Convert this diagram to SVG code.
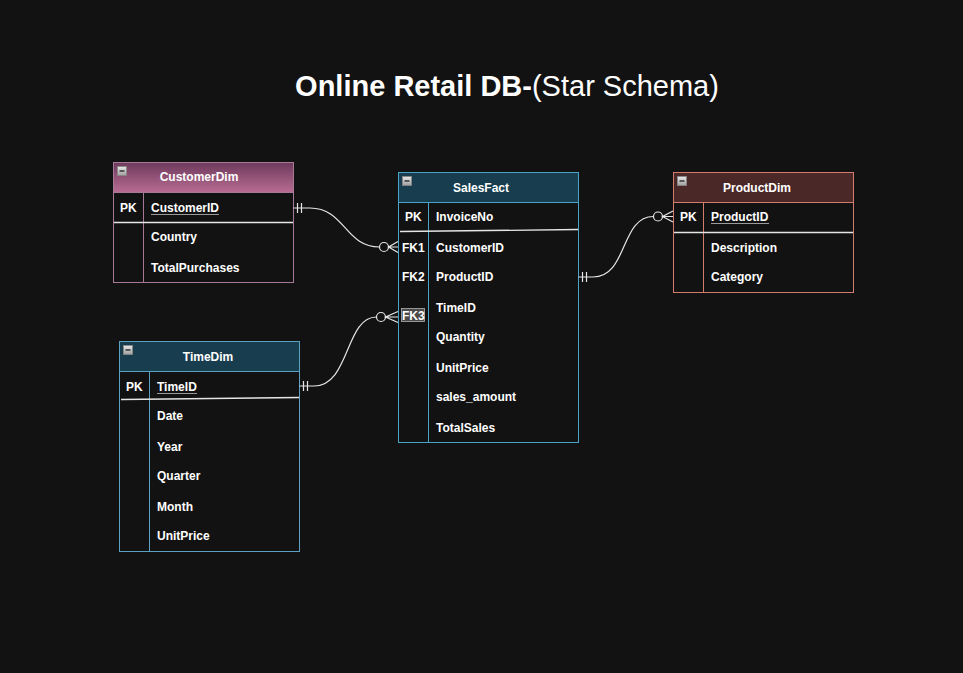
<svg xmlns="http://www.w3.org/2000/svg" width="963" height="673" viewBox="0 0 963 673">
<style>
.t{font-family:"Liberation Sans",Arial,sans-serif;font-weight:bold;font-size:12px;fill:#ffffff}
.hd{font-family:"Liberation Sans",Arial,sans-serif;font-weight:bold;font-size:12px;fill:#ffffff;text-anchor:middle}
.body{fill:#121212}
.sep{stroke:#e6e6e6;stroke-width:1.3}
.ul{stroke:#9a9a9a;stroke-width:1}
.conn{fill:none;stroke:#e6e6e6;stroke-width:1.2}
.circ{fill:#121212;stroke:#e6e6e6;stroke-width:1.2}
</style>
<defs>
<linearGradient id="pinkG" x1="0" y1="0" x2="0" y2="1">
<stop offset="0" stop-color="#6e3a5c"/>
<stop offset="1" stop-color="#b86c93"/>
</linearGradient>
<linearGradient id="iconG" x1="0" y1="0" x2="0" y2="1">
<stop offset="0" stop-color="#e8e8e8"/>
<stop offset="1" stop-color="#a0a0a0"/>
</linearGradient>
<g id="icon">
<rect x="0.5" y="0.5" width="9" height="9" fill="url(#iconG)" stroke="#888" stroke-width="0.8"/>
<line x1="2.5" y1="5" x2="7.5" y2="5" stroke="#333" stroke-width="1.5"/>
</g>
</defs>
<rect width="963" height="673" fill="#121212"/>
<text x="507" y="96" font-family="Liberation Sans,Arial,sans-serif" font-size="29" fill="#ffffff" text-anchor="middle"><tspan font-weight="bold">Online Retail DB-</tspan><tspan>(Star Schema)</tspan></text>

<g id="CustomerDim">
<rect x="113.5" y="162.5" width="180" height="120" class="body" stroke="#a87898"/>
<rect x="113.5" y="162.5" width="180" height="30" fill="url(#pinkG)" stroke="#a87898"/>
<use href="#icon" x="117" y="166"/>
<text x="199" y="180.5" class="hd">CustomerDim</text>
<line x1="143.5" y1="192.5" x2="143.5" y2="282.5" stroke="#a87898"/>
<line x1="114" y1="222.5" x2="293" y2="222.5" class="sep"/>
<text x="120" y="211.5" class="t">PK</text>
<text x="151" y="211.5" class="t">CustomerID</text>
<line x1="151" y1="214.5" x2="219" y2="214.5" class="ul"/>
<text x="151" y="241" class="t">Country</text>
<text x="151" y="271.5" class="t">TotalPurchases</text>
</g>

<g id="SalesFact">
<rect x="398.5" y="172.5" width="180" height="270" class="body" stroke="#4aa3c8"/>
<rect x="398.5" y="172.5" width="180" height="30" fill="#173d4f" stroke="#4aa3c8"/>
<use href="#icon" x="402" y="176"/>
<text x="481" y="191.5" class="hd">SalesFact</text>
<line x1="428.5" y1="202.5" x2="428.5" y2="442.5" stroke="#4aa3c8"/>
<line x1="400" y1="231.5" x2="578" y2="229.5" class="sep"/>
<text x="405" y="220.5" class="t">PK</text>
<text x="436" y="220.5" class="t">InvoiceNo</text>
<text x="402" y="251.5" class="t">FK1</text>
<text x="436" y="251.5" class="t">CustomerID</text>
<text x="402" y="280.5" class="t">FK2</text>
<text x="436" y="280.5" class="t">ProductID</text>
<rect x="401.5" y="308.5" width="23" height="13" fill="#4a4a4a" stroke="#b0b0b0" stroke-width="0.8"/>
<text x="402" y="319.5" class="t">FK3</text>
<text x="436" y="311.5" class="t">TimeID</text>
<text x="436" y="340.5" class="t">Quantity</text>
<text x="436" y="371.5" class="t">UnitPrice</text>
<text x="436" y="400.5" class="t">sales_amount</text>
<text x="436" y="431.5" class="t">TotalSales</text>
</g>

<g id="ProductDim">
<rect x="673.5" y="172.5" width="180" height="120" class="body" stroke="#d47c6c"/>
<rect x="673.5" y="172.5" width="180" height="30" fill="#4a2828" stroke="#d47c6c"/>
<use href="#icon" x="677" y="176"/>
<text x="757" y="191.5" class="hd">ProductDim</text>
<line x1="703.5" y1="202.5" x2="703.5" y2="292.5" stroke="#d47c6c"/>
<line x1="674" y1="232.5" x2="853" y2="232.5" class="sep"/>
<text x="680" y="220.5" class="t">PK</text>
<text x="711" y="220.5" class="t">ProductID</text>
<line x1="711" y1="223.5" x2="769" y2="223.5" class="ul"/>
<text x="711" y="251.5" class="t">Description</text>
<text x="711" y="280.5" class="t">Category</text>
</g>

<g id="TimeDim">
<rect x="119.5" y="341.5" width="180" height="210" class="body" stroke="#5aa0c0"/>
<rect x="119.5" y="341.5" width="180" height="30" fill="#173d4f" stroke="#5aa0c0"/>
<use href="#icon" x="123" y="345"/>
<text x="208" y="360.5" class="hd">TimeDim</text>
<line x1="149.5" y1="371.5" x2="149.5" y2="551.5" stroke="#5aa0c0"/>
<line x1="121" y1="399.5" x2="299" y2="397.5" class="sep"/>
<text x="126" y="390.5" class="t">PK</text>
<text x="157" y="390.5" class="t">TimeID</text>
<line x1="157" y1="393.5" x2="197" y2="393.5" class="ul"/>
<text x="157" y="419.5" class="t">Date</text>
<text x="157" y="450.5" class="t">Year</text>
<text x="157" y="479.5" class="t">Quarter</text>
<text x="157" y="510.5" class="t">Month</text>
<text x="157" y="539.5" class="t">UnitPrice</text>
</g>

<g id="connectors">
<!-- CustomerDim -> SalesFact -->
<path class="conn" d="M293.5,208 L310,208 C345,208 345,247 379.5,247"/>
<line class="conn" x1="297.5" y1="203" x2="297.5" y2="213"/>
<line class="conn" x1="301.5" y1="203" x2="301.5" y2="213"/>
<circle class="circ" cx="384" cy="247" r="4.5"/>
<path class="conn" d="M398,241.5 L388.5,247 L398,252.5 M388.5,247 L398,247"/>
<!-- TimeDim -> SalesFact -->
<path class="conn" d="M299.5,386 L314,386 C350,386 345,317 376.5,317"/>
<line class="conn" x1="303.5" y1="381" x2="303.5" y2="391"/>
<line class="conn" x1="307.5" y1="381" x2="307.5" y2="391"/>
<circle class="circ" cx="381" cy="317" r="4.5"/>
<path class="conn" d="M398,311.5 L385.5,317 L398,322.5 M385.5,317 L398,317"/>
<!-- SalesFact -> ProductDim -->
<path class="conn" d="M578.5,277 L593,277 C628,277 620,216.5 653.5,216.5"/>
<line class="conn" x1="582.5" y1="272" x2="582.5" y2="282"/>
<line class="conn" x1="586.5" y1="272" x2="586.5" y2="282"/>
<circle class="circ" cx="658" cy="216.5" r="4.5"/>
<path class="conn" d="M673,211 L662.5,216.5 L673,222 M662.5,216.5 L673,216.5"/>
</g>
</svg>
